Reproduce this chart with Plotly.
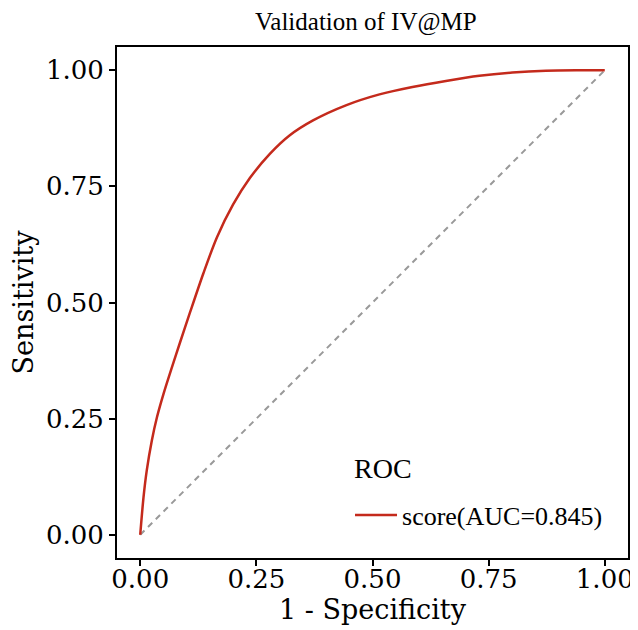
import plotly.graph_objects as go

# ROC curve points
fpr = [0.0, 0.007, 0.014, 0.025, 0.036, 0.050, 0.068, 0.086, 0.107, 0.136,
       0.165, 0.200, 0.236, 0.279, 0.322, 0.372, 0.444, 0.515, 0.586, 0.658,
       0.730, 0.801, 0.873, 0.94, 1.0]
tpr = [0.0, 0.080, 0.138, 0.203, 0.253, 0.303, 0.360, 0.415, 0.478, 0.563,
       0.640, 0.711, 0.768, 0.820, 0.860, 0.892, 0.925, 0.948, 0.964, 0.977,
       0.988, 0.995, 0.999, 1.0, 1.0]
diag = [0.0, 1.0]

title_text = "Validation of IV@MP"
legend_title = "ROC"
series_name = "score(AUC=0.845)"
tick_vals = [0.0, 0.25, 0.5, 0.75, 1.0]
tick_text = ["0.00", "0.25", "0.50", "0.75", "1.00"]

serif = "DejaVu Serif"
times = "Liberation Serif"

fig = go.Figure()
fig.add_trace(go.Scatter(
    x=diag, y=diag, mode="lines",
    line=dict(color="#999999", width=2, dash="6px,5px"),
    showlegend=False, hoverinfo="skip"))
fig.add_trace(go.Scatter(
    x=fpr, y=tpr, mode="lines", name=series_name,
    line=dict(color="#c42a1c", width=2.5, shape="spline", smoothing=0.8)))

axis_common = dict(
    range=[-0.05, 1.05], tickvals=tick_vals, ticktext=tick_text,
    showgrid=False, zeroline=False, showline=True, mirror=True,
    linecolor="black", linewidth=2, ticks="outside", ticklen=6,
    tickwidth=2, tickcolor="black", automargin=False,
    tickfont=dict(family=serif, size=26, color="black"),
)

# the page body adds an 8px offset, so the figure is 8px smaller each way
fig.update_layout(
    width=630, height=622,
    margin=dict(l=109, r=10, t=39, b=72),
    paper_bgcolor="white", plot_bgcolor="white",
    title=dict(text=title_text, x=0.568, xanchor="center", y=0.978,
               yanchor="middle",
               font=dict(family=times, size=25, color="black")),
    xaxis=dict(**axis_common, ticklabelstandoff=-9,
               title=dict(text="1 - Specificity", standoff=6,
                          font=dict(family=serif, size=27, color="black"))),
    yaxis=dict(**axis_common,
               title=dict(text="Sensitivity", standoff=6,
                          font=dict(family=serif, size=27, color="black"))),
    legend=dict(
        x=0.456, y=0.084, xanchor="left", yanchor="middle",
        bgcolor="rgba(0,0,0,0)", borderwidth=0,
        font=dict(family=times, size=26, color="black"),
        itemwidth=42,
    ),
    annotations=[dict(
        text=legend_title, xref="paper", yref="paper",
        x=0.46, y=0.176, xanchor="left", yanchor="middle", showarrow=False,
        font=dict(family=times, size=28, color="black"))],
)

fig.write_html("out.html")
